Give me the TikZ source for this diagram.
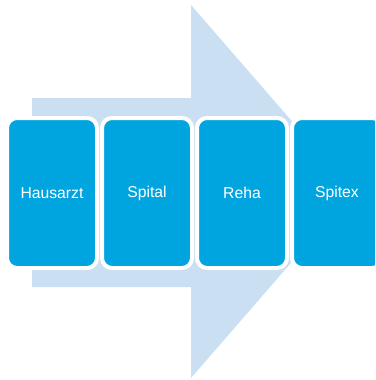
\documentclass[tikz,border=0pt]{standalone}
\usepackage{fontspec}
\setmainfont{Liberation Sans}
\usetikzlibrary{positioning}
\definecolor{stageblue}{HTML}{00A5E0}
\definecolor{flowblue}{HTML}{CADFF2}
\tikzset{
 stagebox/.style={draw=white, fill=stageblue, line width=4pt, rounded corners=10pt,
  minimum width=90pt, minimum height=150pt, outer sep=0pt, inner sep=0pt,
  text=white, font=\fontsize{15.7}{18}\selectfont},
 }

\begin{document}
\begin{tikzpicture}[x=1pt, y=-1pt, node distance=5pt]
        \useasboundingbox (0, 0) rectangle (375, 380);
        \clip (0, 0) rectangle (375, 380);
        % big arrow behind the stages
        \fill [flowblue] (32, 98) -- (191, 98) -- (191, 5) -- (353, 191.5)
            -- (191, 378) -- (191, 287) -- (32, 287) -- cycle;
        \node [stagebox] (hausarzt) at (52, 193) {Hausarzt};
        \node [stagebox, right=of hausarzt] (spital) {Spital};
        \node [stagebox, right=of spital] (reha) {Reha};
        \node [stagebox, right=of reha] (spitex) {Spitex};
    \end{tikzpicture}
\end{document}
